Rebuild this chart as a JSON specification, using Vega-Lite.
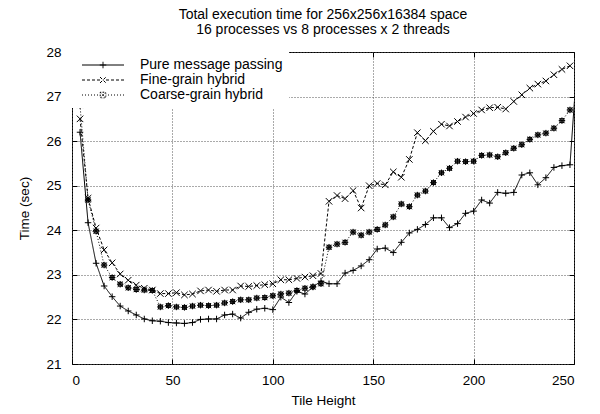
{
  "$schema": "https://vega.github.io/schema/vega-lite/v6.json",
  "width": 502,
  "height": 312,
  "autosize": {"type": "none"},
  "padding": {"left": 72, "top": 52, "right": 26, "bottom": 50},
  "background": "white",
  "title": {
    "text": ["Total execution time for 256x256x16384 space", "16 processes vs 8 processes x 2 threads"],
    "font": "Liberation Sans",
    "fontSize": 14,
    "fontWeight": "normal",
    "color": "black",
    "anchor": "middle",
    "offset": 8,
    "lineHeight": 15
  },
  "config": {
    "view": {"stroke": "black", "strokeWidth": 1},
    "axis": {
      "labelFont": "Liberation Sans",
      "titleFont": "Liberation Sans",
      "labelFontSize": 13.5,
      "titleFontSize": 13.5,
      "titleFontWeight": "normal",
      "labelColor": "black",
      "titleColor": "black",
      "tickColor": "black",
      "domain": false
    },
    "legend": {
      "labelFont": "Liberation Sans",
      "labelFontSize": 14,
      "labelColor": "black"
    }
  },
  "data": {
    "values": [
      {"h": 4, "Pure message passing": 26.2, "Fine-grain hybrid": 26.5, "Coarse-grain hybrid": 26.8},
      {"h": 8, "Pure message passing": 24.17, "Fine-grain hybrid": 24.72, "Coarse-grain hybrid": 24.68},
      {"h": 12, "Pure message passing": 23.26, "Fine-grain hybrid": 24.05, "Coarse-grain hybrid": 23.98},
      {"h": 16, "Pure message passing": 22.75, "Fine-grain hybrid": 23.56, "Coarse-grain hybrid": 23.22},
      {"h": 20, "Pure message passing": 22.51, "Fine-grain hybrid": 23.27, "Coarse-grain hybrid": 22.94},
      {"h": 24, "Pure message passing": 22.3, "Fine-grain hybrid": 23.02, "Coarse-grain hybrid": 22.79},
      {"h": 28, "Pure message passing": 22.19, "Fine-grain hybrid": 22.88, "Coarse-grain hybrid": 22.71},
      {"h": 32, "Pure message passing": 22.1, "Fine-grain hybrid": 22.77, "Coarse-grain hybrid": 22.67},
      {"h": 36, "Pure message passing": 22.01, "Fine-grain hybrid": 22.7, "Coarse-grain hybrid": 22.66},
      {"h": 40, "Pure message passing": 21.97, "Fine-grain hybrid": 22.66, "Coarse-grain hybrid": 22.65},
      {"h": 44, "Pure message passing": 21.96, "Fine-grain hybrid": 22.58, "Coarse-grain hybrid": 22.28},
      {"h": 48, "Pure message passing": 21.93, "Fine-grain hybrid": 22.58, "Coarse-grain hybrid": 22.31},
      {"h": 52, "Pure message passing": 21.92, "Fine-grain hybrid": 22.6, "Coarse-grain hybrid": 22.28},
      {"h": 56, "Pure message passing": 21.91, "Fine-grain hybrid": 22.55, "Coarse-grain hybrid": 22.27},
      {"h": 60, "Pure message passing": 21.93, "Fine-grain hybrid": 22.57, "Coarse-grain hybrid": 22.3},
      {"h": 64, "Pure message passing": 22.0, "Fine-grain hybrid": 22.64, "Coarse-grain hybrid": 22.32},
      {"h": 68, "Pure message passing": 22.01, "Fine-grain hybrid": 22.66, "Coarse-grain hybrid": 22.31},
      {"h": 72, "Pure message passing": 22.01, "Fine-grain hybrid": 22.63, "Coarse-grain hybrid": 22.32},
      {"h": 76, "Pure message passing": 22.1, "Fine-grain hybrid": 22.66, "Coarse-grain hybrid": 22.37},
      {"h": 80, "Pure message passing": 22.12, "Fine-grain hybrid": 22.66, "Coarse-grain hybrid": 22.4},
      {"h": 84, "Pure message passing": 22.03, "Fine-grain hybrid": 22.75, "Coarse-grain hybrid": 22.44},
      {"h": 88, "Pure message passing": 22.16, "Fine-grain hybrid": 22.74, "Coarse-grain hybrid": 22.44},
      {"h": 92, "Pure message passing": 22.23, "Fine-grain hybrid": 22.76, "Coarse-grain hybrid": 22.48},
      {"h": 96, "Pure message passing": 22.25, "Fine-grain hybrid": 22.78, "Coarse-grain hybrid": 22.49},
      {"h": 100, "Pure message passing": 22.22, "Fine-grain hybrid": 22.8, "Coarse-grain hybrid": 22.53},
      {"h": 104, "Pure message passing": 22.5, "Fine-grain hybrid": 22.89, "Coarse-grain hybrid": 22.57},
      {"h": 108, "Pure message passing": 22.38, "Fine-grain hybrid": 22.89, "Coarse-grain hybrid": 22.59},
      {"h": 112, "Pure message passing": 22.63, "Fine-grain hybrid": 22.92, "Coarse-grain hybrid": 22.65},
      {"h": 116, "Pure message passing": 22.57, "Fine-grain hybrid": 22.95, "Coarse-grain hybrid": 22.7},
      {"h": 120, "Pure message passing": 22.73, "Fine-grain hybrid": 22.98, "Coarse-grain hybrid": 22.73},
      {"h": 124, "Pure message passing": 22.86, "Fine-grain hybrid": 23.03, "Coarse-grain hybrid": 22.8},
      {"h": 128, "Pure message passing": 22.8, "Fine-grain hybrid": 24.65, "Coarse-grain hybrid": 23.62},
      {"h": 132, "Pure message passing": 22.8, "Fine-grain hybrid": 24.78, "Coarse-grain hybrid": 23.69},
      {"h": 136, "Pure message passing": 23.04, "Fine-grain hybrid": 24.71, "Coarse-grain hybrid": 23.73},
      {"h": 140, "Pure message passing": 23.1, "Fine-grain hybrid": 24.89, "Coarse-grain hybrid": 23.96},
      {"h": 144, "Pure message passing": 23.2, "Fine-grain hybrid": 24.5, "Coarse-grain hybrid": 23.89},
      {"h": 148, "Pure message passing": 23.34, "Fine-grain hybrid": 25.0, "Coarse-grain hybrid": 23.96},
      {"h": 152, "Pure message passing": 23.58, "Fine-grain hybrid": 25.05, "Coarse-grain hybrid": 24.02},
      {"h": 156, "Pure message passing": 23.6, "Fine-grain hybrid": 25.02, "Coarse-grain hybrid": 24.12},
      {"h": 160, "Pure message passing": 23.5, "Fine-grain hybrid": 25.31, "Coarse-grain hybrid": 24.3},
      {"h": 164, "Pure message passing": 23.73, "Fine-grain hybrid": 25.19, "Coarse-grain hybrid": 24.59},
      {"h": 168, "Pure message passing": 23.94, "Fine-grain hybrid": 25.59, "Coarse-grain hybrid": 24.53},
      {"h": 172, "Pure message passing": 24.02, "Fine-grain hybrid": 26.19, "Coarse-grain hybrid": 24.79},
      {"h": 176, "Pure message passing": 24.13, "Fine-grain hybrid": 26.01, "Coarse-grain hybrid": 24.88},
      {"h": 180, "Pure message passing": 24.28, "Fine-grain hybrid": 26.22, "Coarse-grain hybrid": 25.07},
      {"h": 184, "Pure message passing": 24.28, "Fine-grain hybrid": 26.38, "Coarse-grain hybrid": 25.29},
      {"h": 188, "Pure message passing": 24.06, "Fine-grain hybrid": 26.34, "Coarse-grain hybrid": 25.39},
      {"h": 192, "Pure message passing": 24.15, "Fine-grain hybrid": 26.44, "Coarse-grain hybrid": 25.55},
      {"h": 196, "Pure message passing": 24.38, "Fine-grain hybrid": 26.54, "Coarse-grain hybrid": 25.54},
      {"h": 200, "Pure message passing": 24.43, "Fine-grain hybrid": 26.62, "Coarse-grain hybrid": 25.55},
      {"h": 204, "Pure message passing": 24.68, "Fine-grain hybrid": 26.7, "Coarse-grain hybrid": 25.68},
      {"h": 208, "Pure message passing": 24.61, "Fine-grain hybrid": 26.75, "Coarse-grain hybrid": 25.69},
      {"h": 212, "Pure message passing": 24.85, "Fine-grain hybrid": 26.76, "Coarse-grain hybrid": 25.65},
      {"h": 216, "Pure message passing": 24.83, "Fine-grain hybrid": 26.72, "Coarse-grain hybrid": 25.74},
      {"h": 220, "Pure message passing": 24.85, "Fine-grain hybrid": 26.89, "Coarse-grain hybrid": 25.84},
      {"h": 224, "Pure message passing": 25.24, "Fine-grain hybrid": 27.04, "Coarse-grain hybrid": 25.92},
      {"h": 228, "Pure message passing": 25.29, "Fine-grain hybrid": 27.19, "Coarse-grain hybrid": 26.04},
      {"h": 232, "Pure message passing": 25.02, "Fine-grain hybrid": 27.28, "Coarse-grain hybrid": 26.14},
      {"h": 236, "Pure message passing": 25.18, "Fine-grain hybrid": 27.35, "Coarse-grain hybrid": 26.18},
      {"h": 240, "Pure message passing": 25.41, "Fine-grain hybrid": 27.49, "Coarse-grain hybrid": 26.29},
      {"h": 244, "Pure message passing": 25.45, "Fine-grain hybrid": 27.61, "Coarse-grain hybrid": 26.46},
      {"h": 248, "Pure message passing": 25.47, "Fine-grain hybrid": 27.69, "Coarse-grain hybrid": 26.7},
      {"h": 252, "Pure message passing": 28.05}
    ]
  },
  "transform": [
    {"fold": ["Pure message passing", "Fine-grain hybrid", "Coarse-grain hybrid"], "as": ["series", "time"]},
    {"filter": "isValid(datum.time)"}
  ],
  "layer": [
    {
      "mark": {"type": "line", "clip": true, "strokeWidth": 1, "color": "black"},
      "encoding": {
        "x": {
          "field": "h", "type": "quantitative",
          "scale": {"domain": [0, 250], "nice": false},
          "axis": {
            "values": [0, 50, 100, 150, 200, 250],
            "title": "Tile Height",
            "grid": true, "gridDash": [1, 2], "gridColor": "#555", "gridWidth": 1,
            "ticks": true, "tickSize": -5,
            "labelPadding": 14,
            "titlePadding": 7
          }
        },
        "y": {
          "field": "time", "type": "quantitative",
          "scale": {"domain": [21, 28], "nice": false, "zero": false},
          "axis": {
            "values": [21, 22, 23, 24, 25, 26, 27, 28],
            "title": "Time (sec)",
            "grid": true, "gridDash": [1, 2], "gridColor": "#555", "gridWidth": 1,
            "ticks": true, "tickSize": -5,
            "labelPadding": 16,
            "titlePadding": 14
          }
        },
        "strokeDash": {
          "field": "series", "type": "nominal",
          "scale": {"domain": ["Pure message passing", "Fine-grain hybrid", "Coarse-grain hybrid"], "range": [[1, 0], [3, 2], [1, 2]]},
          "legend": {
            "title": null,
            "orient": "top-left",
            "offset": 0,
            "padding": 6,
            "fillColor": "white",
            "strokeColor": null,
            "symbolSize": 100,
            "symbolStrokeWidth": 1,
            "symbolStrokeColor": "black",
            "symbolOffset": 18,
            "labelOffset": 30,
            "rowPadding": 1,
            "labelExpr": "datum.label + '\u00a0\u00a0\u00a0\u00a0\u00a0\u00a0'",
            "encode": {
              "symbols": {
                "update": {
                  "shape": {"signal": "datum.value === 'Pure message passing' ? 'M-4.2,0H4.2M0,-0.65V0.65M-0.65,0H0.65' : datum.value === 'Fine-grain hybrid' ? 'M-4.2,0H-3.6M-3.2,0H-2.6M-2.2,0H-1.6M-1.2,0H-0.6M0.6,0H1.2M1.6,0H2.2M2.6,0H3.2M3.6,0H4.2M-0.6,-0.6L0.6,0.6M-0.6,0.6L0.6,-0.6' : 'M-4.2,0H-4M-3.6,0H-3.4M-3,0H-2.8M-2.4,0H-2.2M-1.8,0H-1.6M-1.2,0H-1M1,0H1.2M1.6,0H1.8M2.2,0H2.4M2.8,0H3M3.4,0H3.6M4,0H4.2M-0.65,0H0.65M0,-0.65V0.65M-0.5,-0.5L0.5,0.5M-0.5,0.5L0.5,-0.5M-0.55,-0.55H0.55V0.55H-0.55Z'"},
                  "strokeDash": {"value": []},
                  "stroke": {"value": "black"},
                  "fill": {"value": "transparent"}
                }
              }
            }
          }
        }
      }
    },
    {
      "transform": [{"filter": "datum.series === 'Pure message passing'"}],
      "mark": {"type": "point", "clip": true, "filled": false, "color": "black", "strokeWidth": 1, "size": 42, "opacity": 1, "shape": "M-1,0H1M0,-1V1"},
      "encoding": {
        "x": {
          "field": "h", "type": "quantitative",
          "axis": {"orient": "top", "values": [0, 50, 100, 150, 200, 250], "labels": false, "grid": false, "title": null, "ticks": true, "tickSize": -5}
        },
        "y": {
          "field": "time", "type": "quantitative",
          "axis": {"orient": "right", "values": [21, 22, 23, 24, 25, 26, 27, 28], "labels": false, "grid": false, "title": null, "ticks": true, "tickSize": -5}
        }
      }
    },
    {
      "transform": [{"filter": "datum.series === 'Fine-grain hybrid'"}],
      "mark": {"type": "point", "clip": true, "filled": false, "color": "black", "strokeWidth": 1, "size": 42, "opacity": 1, "shape": "M-1,-1L1,1M-1,1L1,-1"},
      "encoding": {
        "x": {"field": "h", "type": "quantitative", "axis": null},
        "y": {"field": "time", "type": "quantitative", "axis": null}
      }
    },
    {
      "transform": [{"filter": "datum.series === 'Coarse-grain hybrid'"}],
      "mark": {"type": "point", "clip": true, "filled": false, "color": "black", "strokeWidth": 1, "size": 42, "opacity": 1, "shape": "M-1,0H1M0,-1V1M-0.8,-0.8L0.8,0.8M-0.8,0.8L0.8,-0.8M-0.6,-0.6H0.6V0.6H-0.6Z"},
      "encoding": {
        "x": {"field": "h", "type": "quantitative", "axis": null},
        "y": {"field": "time", "type": "quantitative", "axis": null}
      }
    }
  ],
  "resolve": {"axis": {"x": "independent", "y": "independent"}}
}
